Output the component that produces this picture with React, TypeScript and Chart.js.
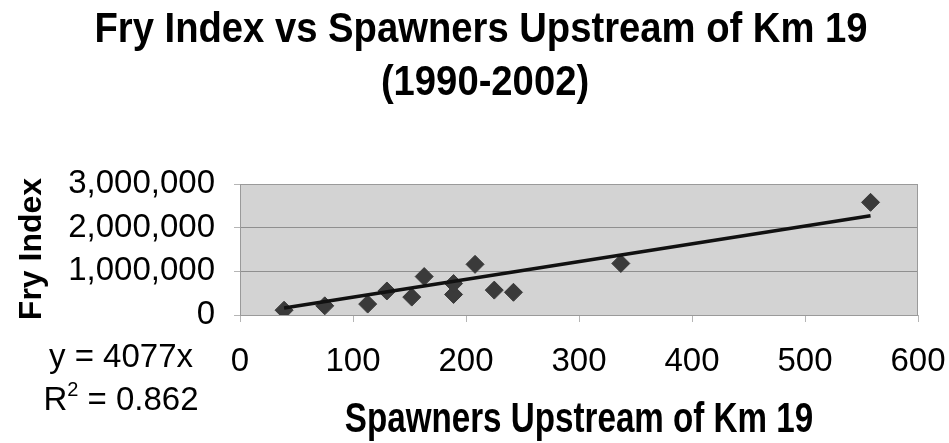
import React, { useEffect, useRef } from 'react';
import { Chart, registerables } from 'chart.js';

Chart.register(...registerables);

// ---- data ----
const TITLE_LINES = ['Fry Index vs Spawners Upstream of Km 19', '(1990-2002)'];
const X_TITLE = 'Spawners Upstream of Km 19';
const Y_TITLE = 'Fry Index';
const spawners = [39, 75, 113, 130, 152, 163, 189, 189, 208, 225, 242, 337, 558];
const fryIndex = [110000, 210000, 250000, 550000, 410000, 880000, 470000, 720000, 1160000, 570000, 520000, 1180000, 2580000];
const trendSlope = 4077;
const trendR2 = '0.862';
const xTickValues = [0, 100, 200, 300, 400, 500, 600];
const yTickValues = [0, 1000000, 2000000, 3000000];

const FONT = '"Liberation Sans", Arial, Helvetica, sans-serif';

function drawText(
  ctx: CanvasRenderingContext2D,
  text: string,
  x: number,
  y: number,
  font: string,
  scaleX: number,
  align: CanvasTextAlign
) {
  ctx.save();
  ctx.font = font;
  ctx.fillStyle = '#000';
  ctx.textAlign = align;
  ctx.textBaseline = 'alphabetic';
  ctx.translate(x, y);
  ctx.scale(scaleX, 1);
  ctx.fillText(text, 0, 0);
  ctx.restore();
}

const decorPlugin = {
  id: 'decor',
  beforeDraw(chart: any) {
    const { ctx, chartArea } = chart;
    ctx.save();
    ctx.fillStyle = '#fff';
    ctx.fillRect(0, 0, chart.width, chart.height);
    ctx.fillStyle = '#d3d3d3';
    ctx.fillRect(chartArea.left, chartArea.top, chartArea.right - chartArea.left, chartArea.bottom - chartArea.top);
    ctx.restore();
  },
  afterDatasetsDraw(chart: any) {
    const { ctx, chartArea } = chart;
    ctx.save();
    ctx.strokeStyle = '#9a9a9a';
    ctx.lineWidth = 1;
    ctx.strokeRect(chartArea.left + 0.5, chartArea.top + 0.5, chartArea.right - chartArea.left - 1, chartArea.bottom - chartArea.top);
    ctx.restore();
  },
  afterDraw(chart: any) {
    const ctx: CanvasRenderingContext2D = chart.ctx;
    const area = chart.chartArea;
    // main title
    drawText(ctx, TITLE_LINES[0], 481, 42, `bold 42px ${FONT}`, 0.91, 'center');
    drawText(ctx, TITLE_LINES[1], 485, 95, `bold 42px ${FONT}`, 0.91, 'center');
    // x axis title
    drawText(ctx, X_TITLE, (area.left + area.right) / 2, 432, `bold 42px ${FONT}`, 0.79, 'center');
    // y axis title
    ctx.save();
    ctx.font = `bold 32px ${FONT}`;
    ctx.fillStyle = '#000';
    ctx.textAlign = 'center';
    ctx.textBaseline = 'alphabetic';
    ctx.translate(41, 249);
    ctx.rotate(-Math.PI / 2);
    ctx.fillText(Y_TITLE, 0, 0);
    ctx.restore();
    // trendline equation
    const cx = 121;
    ctx.save();
    ctx.fillStyle = '#000';
    ctx.textBaseline = 'alphabetic';
    ctx.font = `33px ${FONT}`;
    ctx.textAlign = 'center';
    ctx.fillText(`y = ${trendSlope}x`, cx, 367);
    const partR = 'R';
    const partRest = ` = ${trendR2}`;
    ctx.font = `33px ${FONT}`;
    const wR = ctx.measureText(partR).width;
    const wRest = ctx.measureText(partRest).width;
    ctx.font = `20px ${FONT}`;
    const wSup = ctx.measureText('2').width;
    const total = wR + wSup + wRest;
    const x0 = cx - total / 2;
    ctx.textAlign = 'left';
    ctx.font = `33px ${FONT}`;
    ctx.fillText(partR, x0, 410);
    ctx.font = `20px ${FONT}`;
    ctx.fillText('2', x0 + wR, 396);
    ctx.font = `33px ${FONT}`;
    ctx.fillText(partRest, x0 + wR + wSup, 410);
    ctx.restore();
  },
};

export default function App() {
  const canvasRef = useRef<HTMLCanvasElement | null>(null);

  useEffect(() => {
    const canvas = canvasRef.current;
    if (!canvas) return;
    const minX = Math.min(...spawners);
    const maxX = Math.max(...spawners);
    const trend = [
      { x: minX, y: trendSlope * minX },
      { x: maxX, y: trendSlope * maxX },
    ];
    const points = spawners.map((s, i) => ({ x: s, y: fryIndex[i] }));

    const chart = new Chart(canvas, {
      type: 'scatter',
      data: {
        datasets: [
          {
            type: 'line',
            label: 'Trend',
            data: trend,
            borderColor: '#111',
            borderWidth: 3.5,
            pointRadius: 0,
            fill: false,
          } as any,
          {
            label: 'Fry Index',
            data: points,
            pointStyle: 'rectRot',
            pointRadius: 9,
            backgroundColor: '#3a3a3a',
            borderColor: '#3a3a3a',
            borderWidth: 1,
          },
        ],
      },
      options: {
        responsive: false,
        animation: false,
        layout: { padding: { left: 0, right: 31, top: 184, bottom: 0 } },
        plugins: {
          legend: { display: false },
          title: { display: false },
          tooltip: { enabled: false },
        },
        scales: {
          x: {
            type: 'linear',
            min: 0,
            max: 600,
            afterBuildTicks: (axis: any) => {
              axis.ticks = xTickValues.map((v) => ({ value: v }));
            },
            afterFit: (axis: any) => {
              axis.height = 443 - 315;
              axis.paddingLeft = 0;
              axis.paddingRight = 0;
            },
            ticks: {
              color: '#000',
              font: { family: FONT, size: 33 },
              padding: 20,
              maxRotation: 0,
              autoSkip: false,
            },
            grid: {
              drawOnChartArea: false,
              drawTicks: true,
              tickLength: 7,
              tickColor: '#b5b5b5',
            },
            border: { display: false },
          },
          y: {
            type: 'linear',
            min: 0,
            max: 3000000,
            afterBuildTicks: (axis: any) => {
              axis.ticks = yTickValues.map((v) => ({ value: v }));
            },
            afterFit: (axis: any) => {
              axis.width = 240;
              axis.paddingTop = 0;
              axis.paddingBottom = 0;
            },
            ticks: {
              color: '#000',
              font: { family: FONT, size: 33 },
              padding: 19,
              callback: (v: any) => Number(v).toLocaleString('en-US'),
            },
            grid: {
              color: '#8f8f8f',
              lineWidth: 1,
              drawTicks: true,
              tickLength: 6,
              tickColor: '#b5b5b5',
            },
            border: { display: false },
          },
        },
      },
      plugins: [decorPlugin],
    });

    return () => chart.destroy();
  }, []);

  return (
    <div style={{ position: 'fixed', left: 0, top: 0, width: 949, height: 443, background: '#fff' }}>
      <canvas ref={canvasRef} width={949} height={443} style={{ display: 'block', width: 949, height: 443 }} />
    </div>
  );
}
